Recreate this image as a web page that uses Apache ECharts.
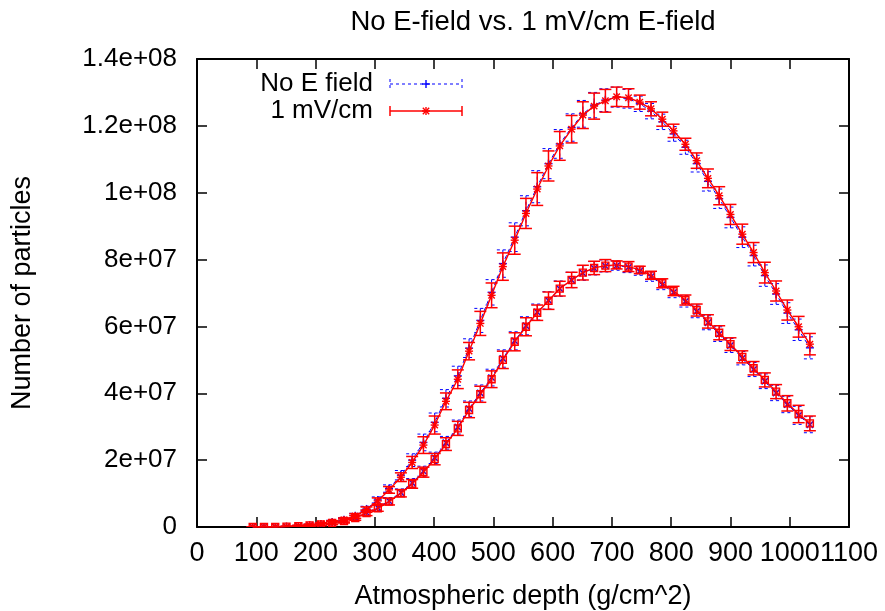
<!DOCTYPE html>
<html>
<head>
<meta charset="utf-8">
<script src="https://cdn.jsdelivr.net/npm/echarts@6/dist/echarts.min.js"></script>
<style>
html,body{margin:0;padding:0;background:#fff;}
#chart{width:885px;height:611px;}
</style>
</head>
<body>
<div id="chart"></div>
<script>
// ---------- data ----------
const depth = [94,113,132,151,171,190,209,228,248,267,
  286,305,324,344,363,382,401,420,440,459,
  478,497,516,536,555,574,593,612,632,651,
  670,689,708,728,747,766,785,804,824,843,
  862,881,900,920,939,958,977,996,1015,1034];

// 1 mV/cm, upper shower curve
const redUpper = [0,0,2e4,1e5,3e5,5e5,9e5,1.4e6,2.1e6,3.3e6,
  5.2e6,7.8e6,1.11e7,1.49e7,1.93e7,2.45e7,3.05e7,3.76e7,4.42e7,5.26e7,
  6.09e7,6.93e7,7.79e7,8.58e7,9.38e7,1.011e8,1.08e8,1.14e8,1.19e8,1.232e8,
  1.259e8,1.275e8,1.287e8,1.284e8,1.271e8,1.251e8,1.22e8,1.185e8,1.145e8,1.096e8,
  1.043e8,9.91e7,9.35e7,8.76e7,8.21e7,7.61e7,7.06e7,6.49e7,5.99e7,5.47e7];
const redUpperErr = [5e4,5e4,5e4,1e5,2e5,3e5,4e5,5e5,6e5,7e5,
  8e5,9e5,1.0e6,1.3e6,1.8e6,2.5e6,2.7e6,2.5e6,2.8e6,2.6e6,
  3.6e6,3.7e6,4.1e6,4.2e6,4.5e6,4.9e6,4.5e6,4.3e6,4.1e6,4.0e6,
  3.9e6,3.4e6,2.9e6,2.7e6,2.1e6,2.1e6,2.1e6,2.0e6,1.8e6,2.3e6,
  2.8e6,2.7e6,3.0e6,3.0e6,3.0e6,3.1e6,3.0e6,3.0e6,3.1e6,3.2e6];

// No E field, upper shower curve
const blueUpper = [0,0,2e4,1e5,3e5,5e5,9e5,1.5e6,2.2e6,3.4e6,
  5.4e6,8.1e6,1.15e7,1.55e7,2.0e7,2.53e7,3.13e7,3.85e7,4.52e7,5.35e7,
  6.18e7,7.02e7,7.88e7,8.67e7,9.46e7,1.018e8,1.087e8,1.146e8,1.195e8,1.236e8,
  1.262e8,1.277e8,1.286e8,1.281e8,1.266e8,1.244e8,1.212e8,1.176e8,1.136e8,1.087e8,
  1.034e8,9.82e7,9.26e7,8.67e7,8.12e7,7.52e7,6.97e7,6.40e7,5.90e7,5.36e7];
const blueUpperErr = [5e4,5e4,5e4,1e5,2e5,3e5,4e5,5e5,6e5,7e5,
  8e5,9e5,1.1e6,1.4e6,1.9e6,2.5e6,2.8e6,2.6e6,2.9e6,2.8e6,
  3.6e6,3.8e6,4.1e6,4.3e6,4.5e6,4.8e6,4.5e6,4.3e6,4.1e6,4.0e6,
  3.8e6,3.4e6,3.0e6,2.8e6,2.3e6,2.3e6,2.3e6,2.2e6,2.1e6,2.5e6,
  2.9e6,2.9e6,3.1e6,3.1e6,3.1e6,3.2e6,3.1e6,3.1e6,3.2e6,3.3e6];

// 1 mV/cm, lower shower curve
const redLower = [0,0,2e4,1e5,2.5e5,5e5,8e5,1.2e6,1.8e6,2.7e6,
  4.2e6,5.6e6,7.6e6,1.01e7,1.29e7,1.64e7,2.03e7,2.48e7,2.95e7,3.5e7,
  3.97e7,4.42e7,5.0e7,5.54e7,5.99e7,6.41e7,6.77e7,7.13e7,7.39e7,7.61e7,
  7.75e7,7.82e7,7.84e7,7.79e7,7.69e7,7.53e7,7.29e7,7.06e7,6.79e7,6.49e7,
  6.15e7,5.81e7,5.47e7,5.09e7,4.75e7,4.40e7,4.05e7,3.70e7,3.38e7,3.10e7];
const redLowerErr = [5e4,5e4,5e4,1e5,2e5,3e5,4e5,5e5,6e5,7e5,
  8e5,9e5,1.0e6,1.1e6,1.3e6,1.5e6,1.7e6,1.9e6,2.1e6,2.3e6,
  2.4e6,2.5e6,2.6e6,2.7e6,2.7e6,2.3e6,2.6e6,2.2e6,2.3e6,2.2e6,
  2.0e6,1.8e6,1.2e6,1.5e6,1.1e6,1.2e6,1.35e6,1.4e6,1.5e6,1.8e6,
  2.0e6,2.1e6,1.9e6,1.8e6,2.0e6,2.1e6,2.1e6,2.3e6,2.6e6,2.2e6];

// No E field, lower shower curve
const blueLower = [0,0,2e4,1e5,2.5e5,5e5,8e5,1.25e6,1.9e6,2.8e6,
  4.3e6,5.8e6,7.8e6,1.03e7,1.32e7,1.67e7,2.07e7,2.52e7,2.99e7,3.54e7,
  4.01e7,4.47e7,5.04e7,5.57e7,6.02e7,6.43e7,6.78e7,7.13e7,7.39e7,7.60e7,
  7.74e7,7.81e7,7.82e7,7.77e7,7.66e7,7.49e7,7.25e7,7.02e7,6.75e7,6.45e7,
  6.11e7,5.77e7,5.43e7,5.05e7,4.71e7,4.36e7,4.01e7,3.66e7,3.34e7,3.06e7];
const blueLowerErr = [5e4,5e4,5e4,1e5,2e5,3e5,4e5,5e5,6e5,7e5,
  8e5,9e5,1.0e6,1.1e6,1.3e6,1.5e6,1.7e6,1.9e6,2.1e6,2.3e6,
  2.4e6,2.5e6,2.6e6,2.7e6,2.7e6,2.4e6,2.6e6,2.3e6,2.3e6,2.2e6,
  2.0e6,1.8e6,1.4e6,1.6e6,1.3e6,1.4e6,1.5e6,1.6e6,1.7e6,1.9e6,
  2.1e6,2.2e6,2.1e6,2.0e6,2.1e6,2.2e6,2.3e6,2.4e6,2.7e6,2.4e6];

const xTickLabels = ['0','100','200','300','400','500','600','700','800','900','1000','1100'];
const yTickLabels = ['0','2e+07','4e+07','6e+07','8e+07','1e+08','1.2e+08','1.4e+08'];
const seriesNames = ['No E field','1 mV/cm'];
const titleText = 'No E-field vs. 1 mV/cm E-field';
const xName = 'Atmospheric depth (g/cm^2)';
const yName = 'Number of particles';

// ---------- chart ----------
const FONT = '"Liberation Sans", Arial, sans-serif';
const FS = 26;
const RED = '#ff0000', BLUE = '#0000ff';
const chart = echarts.init(document.getElementById('chart'), null, {renderer:'canvas'});

function pairs(ys){ return depth.map((x,i)=>[x, ys[i]]); }

function markerShapes(kind, cx, cy, color, lw){
  const s = 4, out = [];
  const L = (x1,y1,x2,y2)=>out.push({type:'line', shape:{x1,y1,x2,y2}, style:{stroke:color, lineWidth:lw}});
  if (kind === 'plus' || kind === 'star'){ L(cx-s,cy,cx+s,cy); L(cx,cy-s,cx,cy+s); }
  if (kind === 'cross' || kind === 'star'){ L(cx-3.2,cy-3.2,cx+3.2,cy+3.2); L(cx-3.2,cy+3.2,cx+3.2,cy-3.2); }
  if (kind === 'box'){ out.push({type:'rect', shape:{x:cx-3.5,y:cy-3.5,width:7,height:7}, style:{stroke:color, fill:'rgba(255,0,0,0.25)', lineWidth:lw}}); }
  return out;
}

function errSeries(ys, es, color, dashed, marker, z){
  return {
    type:'custom', z:z, clip:true, silent:true,
    data: depth.map((x,i)=>[x, ys[i], es[i]]),
    encode:{x:0, y:1},
    renderItem:(params, api)=>{
      const x = api.value(0), y = api.value(1), e = api.value(2);
      const p = api.coord([x,y]), t = api.coord([x,y+e]), b = api.coord([x,y-e]);
      const st = {stroke:color, lineWidth: dashed?1:1.5, lineDash: dashed?[3,3]:null};
      const cw = 6;
      const children = [
        {type:'line', shape:{x1:p[0],y1:t[1],x2:p[0],y2:b[1]}, style:st},
        {type:'line', shape:{x1:p[0]-cw,y1:t[1],x2:p[0]+cw,y2:t[1]}, style:st},
        {type:'line', shape:{x1:p[0]-cw,y1:b[1],x2:p[0]+cw,y2:b[1]}, style:st}
      ].concat(markerShapes(marker, p[0], p[1], color, 1.4));
      return {type:'group', children};
    }
  };
}

function lineSeries(name, ys, color, dashed, z){
  return {
    type:'line', name, data: pairs(ys), symbol:'none', z:z, silent:true, animation:false,
    lineStyle:{color, width: dashed?1:1.4, type: dashed?[4,3]:'solid'}
  };
}

const axisCommon = {
  type:'value',
  axisLine:{show:true, onZero:false, lineStyle:{color:'#000', width:2}},
  axisTick:{show:true, inside:true, length:10, lineStyle:{color:'#000', width:1.5}},
  splitLine:{show:false}
};

// legend drawn as gnuplot-style key
const keyX = 373, keyY1 = 84, keyY2 = 111, smp1 = 390, smp2 = 462;
function keySample(y, color, dashed, marker){
  const st = {stroke:color, lineWidth: dashed?1:1.5, lineDash: dashed?[3,3]:null};
  const mid = (smp1+smp2)/2;
  const els = [
    {type:'line', shape:{x1:smp1,y1:y,x2:smp2,y2:y}, style:st},
    {type:'line', shape:{x1:smp1,y1:y-5,x2:smp1,y2:y+5}, style:st},
    {type:'line', shape:{x1:smp2,y1:y-5,x2:smp2,y2:y+5}, style:st}
  ].concat(markerShapes(marker, mid, y, color, 1.4));
  return els;
}

const option = {
  animation:false,
  backgroundColor:'#fff',
  title:{text:titleText, left:528, top:3, textAlign:'center',
    textStyle:{fontFamily:FONT, fontSize:27.5, fontWeight:'normal', color:'#000'}},
  grid:{left:197, right:36, top:59, bottom:84, containLabel:false, outerBoundsMode:'none'},
  xAxis:[
    Object.assign({}, axisCommon, {position:'bottom', min:0, max:1100, interval:100,
      name:xName, nameLocation:'middle', nameGap:56,
      nameTextStyle:{fontFamily:FONT, fontSize:27, color:'#000'},
      axisLabel:{show:true, margin:13, fontFamily:FONT, fontSize:27, color:'#000', hideOverlap:false,
        formatter:(v)=>xTickLabels[Math.round(v/100)]}}),
    Object.assign({}, axisCommon, {position:'top', min:0, max:1100, interval:100, axisLabel:{show:false}})
  ],
  yAxis:[
    Object.assign({}, axisCommon, {position:'left', min:0, max:1.4e8, interval:2e7,
      name:yName, nameLocation:'middle', nameGap:161, nameRotate:90,
      nameTextStyle:{fontFamily:FONT, fontSize:27, color:'#000'},
      axisLabel:{show:true, margin:20, fontFamily:FONT, fontSize:FS, color:'#000',
        formatter:(v)=>yTickLabels[Math.round(v/2e7)]}}),
    Object.assign({}, axisCommon, {position:'right', min:0, max:1.4e8, interval:2e7, axisLabel:{show:false}})
  ],
  series:[
    lineSeries(seriesNames[0], blueUpper, BLUE, true, 2),
    errSeries(blueUpper, blueUpperErr, BLUE, true, 'plus', 3),
    lineSeries(seriesNames[1], redUpper, RED, false, 4),
    errSeries(redUpper, redUpperErr, RED, false, 'star', 5),
    lineSeries(seriesNames[0]+' ', blueLower, BLUE, true, 2),
    errSeries(blueLower, blueLowerErr, BLUE, true, 'cross', 3),
    lineSeries(seriesNames[1]+' ', redLower, RED, false, 4),
    errSeries(redLower, redLowerErr, RED, false, 'box', 5)
  ],
  graphic:[
    {type:'text', x:keyX, y:keyY1, style:{text:seriesNames[0], font:FS+'px '+FONT, fill:'#000', textAlign:'right', textVerticalAlign:'middle'}},
    {type:'text', x:keyX, y:keyY2, style:{text:seriesNames[1], font:FS+'px '+FONT, fill:'#000', textAlign:'right', textVerticalAlign:'middle'}},
    {type:'group', children: keySample(keyY1, BLUE, true, 'plus')},
    {type:'group', children: keySample(keyY2, RED, false, 'star')}
  ]
};
chart.setOption(option);
</script>
</body>
</html>
